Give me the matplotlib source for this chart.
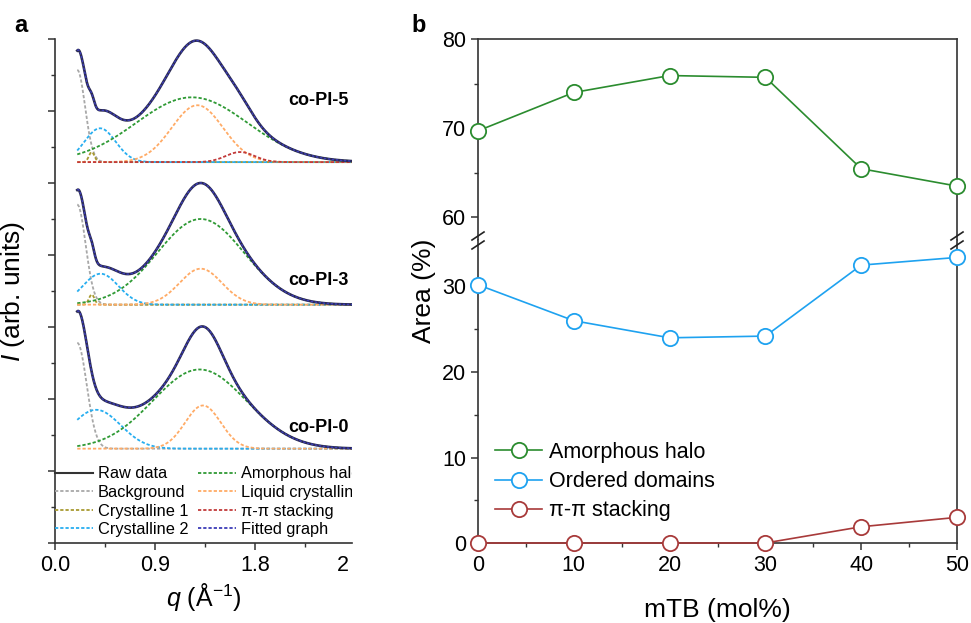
import numpy as np
import matplotlib
matplotlib.use('Agg')
import matplotlib.pyplot as plt
from matplotlib.lines import Line2D

plt.rcParams['font.family'] = ['Liberation Sans', 'DejaVu Sans']
plt.rcParams['mathtext.fontset'] = 'custom'
plt.rcParams['mathtext.rm'] = 'Liberation Sans'
plt.rcParams['mathtext.it'] = 'Liberation Sans:italic'

# ---- panel a: peak fit parameters (q in 1/A, height in stacked units)
samples = ['co-PI-0', 'co-PI-3', 'co-PI-5']
baseline = [1.31, 3.31, 5.29]
q_start, q_end = 0.2, 2.67

bg_amp = [1.47, 1.39, 1.28]
bg_width = [0.085, 0.075, 0.07]
cr1_pos = [0.33, 0.33, 0.33]
cr1_amp = [0.0, 0.14, 0.14]
cr1_width = [0.025, 0.025, 0.025]
cr2_pos = [0.37, 0.41, 0.405]
cr2_amp = [0.54, 0.43, 0.47]
cr2_width = [0.22, 0.16, 0.14]
halo_pos = [1.30, 1.31, 1.23]
halo_amp = [1.10, 1.19, 0.90]
halo_width = [0.42, 0.39, 0.50]
lc_pos = [1.33, 1.31, 1.28]
lc_amp = [0.60, 0.50, 0.79]
lc_width = [0.16, 0.19, 0.23]
pi_pos = [1.665, 1.665, 1.665]
pi_amp = [0.0, 0.0, 0.14]
pi_width = [0.13, 0.13, 0.13]

# ---- panel b: peak areas
mtb = [0, 10, 20, 30, 40, 50]
amorphous = [69.7, 74.0, 75.9, 75.7, 65.45, 63.5]
ordered = [30.2, 26.0, 24.0, 24.2, 32.5, 33.4]
pipi = [0, 0, 0, 0, 1.9, 3.0]


def gauss(q, pos, amp, width):
    return amp * np.exp(-(q - pos) ** 2 / (2 * width ** 2))


def box(l, t, r, b):
    # pixel box -> figure fraction
    return [l / 971, 1 - b / 623, (r - l) / 971, (b - t) / 623]


fig = plt.figure(figsize=(9.71, 6.23), dpi=100)
dots = (0, (1.8, 1.1))
c_bg, c_cr1, c_cr2 = '#a8a8a8', '#a89a30', '#27aef0'
c_halo, c_lc, c_pi, c_fit = '#2f9a35', '#ffab66', '#c23a3a', '#3d3db8'
spine_c = '#333333'

# ================= panel a
axa = fig.add_axes(box(55, 39, 352, 543))
q = np.linspace(q_start, q_end, 600)
label_y = [1.61, 3.65, 6.15]

for i in range(len(samples)):
    y0 = baseline[i]
    comps = [
        (gauss(q, q_start, bg_amp[i], bg_width[i]), bg_amp[i], c_bg),
        (gauss(q, cr1_pos[i], cr1_amp[i], cr1_width[i]), cr1_amp[i], c_cr1),
        (gauss(q, cr2_pos[i], cr2_amp[i], cr2_width[i]), cr2_amp[i], c_cr2),
        (gauss(q, halo_pos[i], halo_amp[i], halo_width[i]), halo_amp[i], c_halo),
        (gauss(q, lc_pos[i], lc_amp[i], lc_width[i]), lc_amp[i], c_lc),
        (gauss(q, pi_pos[i], pi_amp[i], pi_width[i]), pi_amp[i], c_pi),
    ]
    total = y0 + sum(c[0] for c in comps)
    for curve, amp, col in comps:
        if amp > 0:
            axa.plot(q, y0 + curve, color=col, ls=dots, lw=1.3)
    axa.plot(q, total, color='#2a2a50', lw=1.9)
    axa.plot(q, total, color=c_fit, ls=dots, lw=1.0)
    axa.text(2.64, label_y[i], samples[i], ha='right', va='center',
             fontsize=13, fontweight='bold')

axa.set_xlim(0, q_end)
axa.set_ylim(0, 7)
axa.set_xticks([0, 0.9, 1.8, 2.59], ['0.0', '0.9', '1.8', '2'])
axa.set_xticks([0.45, 1.35, 2.25], minor=True)
axa.xaxis.get_major_ticks()[-1].tick1line.set_visible(False)
axa.set_yticks(range(8))
axa.set_yticks(np.arange(0.5, 7, 1), minor=True)
axa.set_yticklabels([])
for s in ['top', 'right']:
    axa.spines[s].set_visible(False)
for s in ['left', 'bottom']:
    axa.spines[s].set_color(spine_c)
    axa.spines[s].set_linewidth(1.2)
axa.tick_params(which='major', length=5, width=1.1, color=spine_c, labelsize=15.5)
axa.tick_params(which='minor', length=3, width=1.0, color=spine_c)
axa.set_xlabel(r'$q$ (Å$^{-1}$)', fontsize=18, labelpad=4)
axa.set_ylabel(r'$I$ (arb. units)', fontsize=19, labelpad=12)

handles = [Line2D([], [], color='#333333', lw=1.5)]
for col in [c_bg, c_cr1, c_cr2, c_halo, c_lc, c_pi, c_fit]:
    handles.append(Line2D([], [], color=col, ls=dots, lw=1.3))
labels = ['Raw data', 'Background', 'Crystalline 1', 'Crystalline 2',
          'Amorphous halo', 'Liquid crystalline', 'π-π stacking', 'Fitted graph']
leg = axa.legend(handles, labels, ncol=2, loc='upper left', bbox_to_anchor=(0, 0.152),
                 frameon=False, fontsize=11.8, handlelength=2.3, handletextpad=0.3,
                 columnspacing=0.6, labelspacing=0.22, borderpad=0, borderaxespad=0)
for t in leg.get_texts():
    t.set_clip_on(True)
    t.set_clip_box(axa.bbox)

# ================= panel b (broken y axis)
axt = fig.add_axes(box(478, 39, 957, 240))
axb = fig.add_axes(box(478, 240, 957, 543))
g_col, b_col, r_col = '#2b8c2f', '#1ea2f0', '#a83a3a'
mk = dict(marker='o', mfc='white', ms=11, mew=1.3, lw=1.2, clip_on=False, zorder=3)

h_am, = axt.plot(mtb, amorphous, color=g_col, mec=g_col, **mk)
h_od, = axb.plot(mtb, ordered, color=b_col, mec=b_col, **mk)
h_pi, = axb.plot(mtb, pipi, color=r_col, mec=r_col, **mk)

axt.set_xlim(0, 50)
axb.set_xlim(0, 50)
axt.set_ylim(80 - (240 - 39) / 8.915, 80)
axb.set_ylim(0, (543 - 240) / 8.55)

axt.spines['bottom'].set_visible(False)
axb.spines['top'].set_visible(False)
for ax in (axt, axb):
    for s in ax.spines.values():
        s.set_color(spine_c)
        s.set_linewidth(1.2)
    ax.tick_params(which='major', length=5, width=1.1, color=spine_c, labelsize=15.5)
    ax.tick_params(which='minor', length=3, width=1.0, color=spine_c)

axt.tick_params(axis='x', which='both', bottom=False, labelbottom=False)
axt.set_yticks([60, 70, 80])
axt.set_yticks([65, 75], minor=True)
axb.set_xticks(range(0, 51, 10))
axb.set_xticks(range(5, 50, 10), minor=True)
axb.set_yticks([0, 10, 20, 30])
axb.set_yticks([5, 15, 25], minor=True)
axb.set_xlabel('mTB (mol%)', fontsize=19, labelpad=16)
fig.text(424 / 971, 1 - 291 / 623, 'Area (%)', rotation=90, ha='center', va='center',
         fontsize=19)

# break marks
for xp in (478, 957):
    for yp in (236, 245):
        fig.add_artist(Line2D([(xp - 6) / 971, (xp + 6) / 971],
                              [1 - (yp + 4) / 623, 1 - (yp - 4) / 623],
                              transform=fig.transFigure, color='#222222', lw=1.2))

axb.legend([h_am, h_od, h_pi], ['Amorphous halo', 'Ordered domains', 'π-π stacking'],
           loc='upper left', bbox_to_anchor=((495 - 478) / 479, (543 - 442) / 303),
           frameon=False, fontsize=15.5, handlelength=2.2, handletextpad=0.3,
           labelspacing=0.38, borderpad=0, borderaxespad=0)

fig.text(14 / 971, 1 - 26 / 623, 'a', fontweight='bold', fontsize=17, va='center')
fig.text(411 / 971, 1 - 26 / 623, 'b', fontweight='bold', fontsize=17, va='center')

fig.savefig('out.png', dpi=100)
